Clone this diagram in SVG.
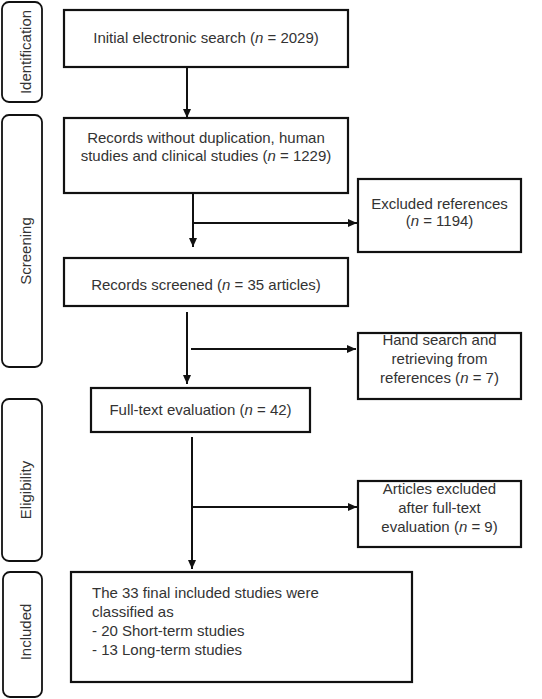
<svg xmlns="http://www.w3.org/2000/svg" width="542" height="699" viewBox="0 0 542 699">
<style>
.box{fill:#fff;stroke:#111;stroke-width:2.2}
.side{fill:#fff;stroke:#111;stroke-width:1.8}
.t{font-family:"Liberation Sans",Arial,sans-serif;font-size:15px;fill:#333}
.c{text-anchor:middle}
.ln{fill:none;stroke:#111;stroke-width:2}
</style>
<defs>
<marker id="ah" markerUnits="userSpaceOnUse" markerWidth="9" markerHeight="8" refX="9" refY="4" orient="auto">
<path d="M0,0 L9,4 L0,8 z" fill="#111"/>
</marker>
</defs>
<rect width="542" height="699" fill="#fff"/>
<g id="stage-identification">
<rect class="side" x="2" y="2" width="40" height="100" rx="7"/>
<text class="t c" transform="translate(31,52) rotate(-90)">Identification</text>
</g>
<g id="stage-screening">
<rect class="side" x="2" y="115" width="40" height="252" rx="7"/>
<text class="t c" transform="translate(31,251) rotate(-90)">Screening</text>
</g>
<g id="stage-eligibility">
<rect class="side" x="2" y="399" width="40" height="162" rx="7"/>
<text class="t c" transform="translate(31,490) rotate(-90)">Eligibility</text>
</g>
<g id="stage-included">
<rect class="side" x="3" y="572" width="39" height="125" rx="7"/>
<text class="t c" transform="translate(31,632) rotate(-90)">Included</text>
</g>
<g id="initial-search">
<rect class="box" x="64" y="10" width="284" height="57"/>
<text class="t c" x="206" y="43">Initial electronic search (<tspan font-style="italic">n</tspan> = 2029)</text>
</g>
<g id="records-without-dup">
<rect class="box" x="64" y="118" width="284" height="75"/>
<text class="t c" x="206" y="143">Records without duplication, human</text>
<text class="t c" x="206" y="161">studies and clinical studies (<tspan font-style="italic">n</tspan> = 1229)</text>
</g>
<g id="excluded-references">
<rect class="box" x="358" y="179" width="163" height="73"/>
<text class="t c" x="439.5" y="209">Excluded references</text>
<text class="t c" x="439.5" y="226">(<tspan font-style="italic">n</tspan> = 1194)</text>
</g>
<g id="records-screened">
<rect class="box" x="64" y="258" width="284" height="48"/>
<text class="t c" x="206" y="290">Records screened (<tspan font-style="italic">n</tspan> = 35 articles)</text>
</g>
<g id="hand-search">
<rect class="box" x="358" y="333" width="163" height="66"/>
<text class="t c" x="439.5" y="345">Hand search and</text>
<text class="t c" x="439.5" y="364">retrieving from</text>
<text class="t c" x="439.5" y="383">references (<tspan font-style="italic">n</tspan> = 7)</text>
</g>
<g id="full-text">
<rect class="box" x="91" y="388" width="219" height="44"/>
<text class="t c" x="200.5" y="415">Full-text evaluation (<tspan font-style="italic">n</tspan> = 42)</text>
</g>
<g id="articles-excluded">
<rect class="box" x="358" y="481" width="163" height="66"/>
<text class="t c" x="439.5" y="494">Articles excluded</text>
<text class="t c" x="439.5" y="513">after full-text</text>
<text class="t c" x="439.5" y="532">evaluation (<tspan font-style="italic">n</tspan> = 9)</text>
</g>
<g id="final-included">
<rect class="box" x="71" y="572" width="341" height="110" stroke-width="2.6"/>
<text class="t" x="92" y="598">The 33 final included studies were</text>
<text class="t" x="92" y="617">classified as</text>
<text class="t" x="92" y="636">- 20 Short-term studies</text>
<text class="t" x="92" y="655">- 13 Long-term studies</text>
</g>
<g id="connectors">
<path class="ln" d="M187,67 V118" marker-end="url(#ah)"/>
<path class="ln" d="M193,193 V247" marker-end="url(#ah)"/>
<path class="ln" d="M193,223 H357" marker-end="url(#ah)"/>
<path class="ln" d="M187,312 V384" marker-end="url(#ah)"/>
<path class="ln" d="M191,349 H356" marker-end="url(#ah)"/>
<path class="ln" d="M192,437 V569" marker-end="url(#ah)"/>
<path class="ln" d="M192,507 H357" marker-end="url(#ah)"/>
</g>
</svg>
